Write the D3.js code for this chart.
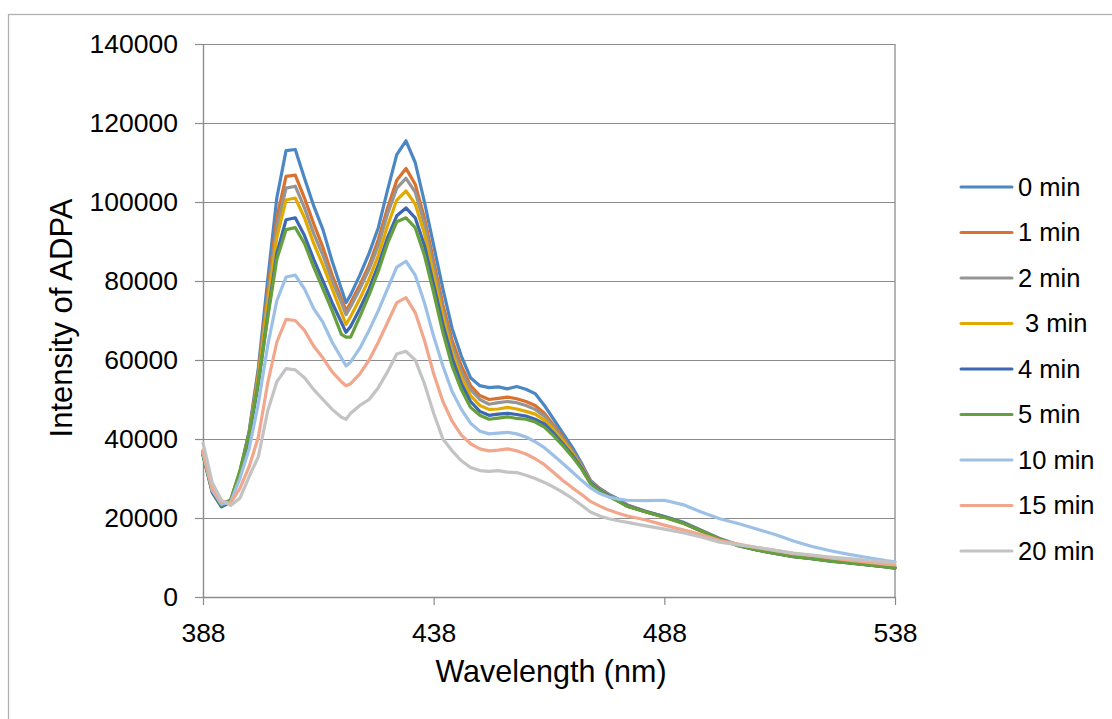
<!DOCTYPE html>
<html>
<head>
<meta charset="utf-8">
<script src="https://cdn.jsdelivr.net/npm/d3@7"></script>
<style>
  body { margin: 0; background: #fff; }
  text { font-family: "Liberation Sans", Arial, sans-serif; fill: #000; }
</style>
</head>
<body>
<div class="chart"></div>
<script>
// wavelengths (nm) the curves are sampled at
var wavelengths = [388, 390, 392, 394, 396, 398, 400, 402, 404, 406, 408, 410, 412, 414, 416, 418, 419, 420,
  422, 424, 426, 428, 430, 432, 434, 436, 438, 440, 442, 444, 446, 448, 450, 452, 454, 456, 458, 460,
  462, 464, 466, 468, 470, 472, 474, 476, 478, 480, 484, 488, 492, 496, 500, 504, 508, 512, 516, 520,
  524, 528, 532, 536, 538];

var min0 = [37000, 27500, 23500, 24500, 31500, 42000, 58000, 80000, 101000, 113000, 113300, 106000, 99000, 93000, 85000, 78000, 74500, 76500,
  81500, 87000, 93500, 103000, 112000, 115500, 110000, 100000, 89000, 78000, 68000, 61000, 55500, 53500, 53000, 53200, 52700, 53300, 52600, 51500,
  48500, 45000, 41500, 38000, 34000, 29500, 27500, 26000, 24800, 23300, 21700, 20400, 19000, 16900, 14800, 13200, 12100, 11200, 10400, 9900,
  9300, 8800, 8300, 7800, 7500];
var min1 = [36500, 27000, 23500, 24500, 31500, 41500, 57000, 77000, 96000, 106500, 106800, 101000, 94500, 88500, 81500, 75500, 72500, 74500,
  79000, 84000, 90500, 98500, 105500, 108500, 104500, 96000, 85000, 74000, 65000, 58500, 53500, 51000, 50000, 50300, 50600, 50200, 49500, 48500,
  46500, 43500, 40500, 37000, 33500, 29300, 27300, 25800, 24600, 23200, 21600, 20300, 18800, 16800, 14700, 13100, 12000, 11100, 10300, 9800,
  9200, 8700, 8200, 7700, 7400];
var min2 = [36500, 27000, 23500, 24500, 31500, 41000, 56000, 75500, 93500, 103500, 104000, 98500, 92000, 86500, 80000, 74500, 71500, 73500,
  78000, 83000, 89000, 97000, 103500, 106000, 102500, 94500, 83500, 72500, 63500, 57000, 52500, 50000, 48800, 49200, 49500, 49200, 48500, 47500,
  45800, 43000, 40000, 36800, 33300, 29200, 27200, 25700, 24500, 23100, 21600, 20300, 18800, 16800, 14700, 13100, 12000, 11100, 10300, 9800,
  9200, 8700, 8200, 7700, 7400];
var min3 = [36000, 26500, 23000, 24500, 31500, 41000, 55500, 74000, 91000, 100500, 101000, 96000, 89500, 84000, 78000, 72000, 69000, 71000,
  75500, 80500, 86500, 94000, 100500, 102800, 99500, 92000, 81500, 71000, 62000, 55500, 51000, 48500, 47500, 47600, 48000, 47600, 47000, 46300,
  44800, 42300, 39500, 36500, 33000, 29000, 27000, 25600, 24400, 23000, 21500, 20200, 18700, 16700, 14600, 13100, 12000, 11100, 10300, 9700,
  9200, 8700, 8200, 7700, 7400];
var min4 = [36000, 26500, 22800, 24000, 31000, 40500, 54000, 71000, 87000, 95500, 96000, 91500, 85500, 80000, 74500, 69500, 67000, 68500,
  73000, 78000, 84000, 91000, 96500, 98500, 96000, 89000, 79000, 69000, 60500, 54000, 49500, 47000, 46000, 46300, 46500, 46200, 45800, 45000,
  43800, 41500, 38800, 36000, 32800, 28900, 27000, 25600, 24400, 23000, 21600, 20300, 18800, 16700, 14600, 13000, 11900, 11000, 10200, 9700,
  9100, 8600, 8100, 7600, 7300];
var min5 = [36000, 27000, 23200, 24500, 32000, 41500, 54500, 70500, 85500, 93000, 93500, 89500, 83500, 78000, 72500, 66500, 65800, 65800,
  71000, 76500, 82500, 89500, 95000, 96000, 93500, 86500, 77000, 67000, 58500, 52500, 48000, 46000, 45000, 45300, 45600, 45200, 45000, 44300,
  43000, 40800, 38300, 35600, 32500, 28700, 26800, 25400, 24200, 22900, 21500, 20200, 18700, 16700, 14600, 13000, 11900, 11000, 10200, 9700,
  9100, 8600, 8100, 7600, 7300];
var min10 = [36500, 27000, 23500, 24000, 30000, 37500, 49000, 63500, 75000, 81000, 81500, 78000, 73000, 69500, 64500, 60500, 58500, 59500,
  63000, 67500, 72500, 78000, 83500, 85000, 81500, 74500, 66000, 58500, 52000, 47500, 44000, 42000, 41300, 41500, 41700, 41300, 40500, 39300,
  37800, 35800, 33800, 31700, 29600, 27600, 26200, 25300, 24800, 24500, 24400, 24500, 23400, 21500, 19800, 18600, 17200, 15800, 14200, 12800,
  11700, 10800, 10000, 9200, 8900];
var min15 = [37000, 27500, 24000, 23800, 27500, 33000, 40500, 54000, 64500, 70300, 70000, 67500, 63500, 60500, 57000, 54500, 53500, 54000,
  56500, 60000, 64500, 69500, 74500, 75800, 72000, 65000, 56500, 49500, 44500, 41000, 38800, 37500, 37000, 37200, 37500, 37000, 36200, 35000,
  33500, 31500, 29500, 27700, 26000, 24200, 23000, 22000, 21200, 20500, 19500, 18200, 17000, 15800, 14300, 13400, 12500, 11800, 11000, 10500,
  9900, 9300, 8800, 8300, 8100];
var min20 = [39000, 29000, 24500, 23200, 25000, 30500, 35500, 47000, 54500, 57800, 57500, 55500, 52500, 50000, 47500, 45500, 45000, 46500,
  48500, 50000, 53000, 57000, 61500, 62200, 60000, 54000, 46500, 40000, 37000, 34500, 32800, 32000, 31800, 32000, 31600, 31500, 30800, 30000,
  29000, 27800, 26500, 25000, 23300, 21500, 20500, 19800, 19300, 18900, 18000, 17200, 16300, 15200, 13900, 13200, 12600, 11800, 11100, 10600,
  10100, 9700, 9300, 8900, 8700];

var seriesNames = ["0 min", "1 min", "2 min", " 3 min", "4 min", "5 min", "10 min", "15 min", "20 min"];
var seriesValues = [min0, min1, min2, min3, min4, min5, min10, min15, min20];
var seriesColors = ["#4A87C3", "#D9722E", "#959595", "#E2AA00", "#3E67B1", "#66A03E", "#9DC0E6", "#F2A78C", "#C3C3C3"];

var xTicks = [388, 438, 488, 538];
var yTicks = [0, 20000, 40000, 60000, 80000, 100000, 120000, 140000];

var svgWidth = 1112;
var svgHeight = 719;

var margin = { top: 44, left: 203, right: 217, bottom: 122 };
var width = svgWidth - margin.left - margin.right;
var height = svgHeight - margin.top - margin.bottom;

var svg = d3.select(".chart")
  .append("svg")
  .attr("width", svgWidth)
  .attr("height", svgHeight);

// chart frame (runs off the picture on the right and bottom)
svg.append("rect")
  .attr("x", 8.5)
  .attr("y", 14.5)
  .attr("width", 1200)
  .attr("height", 800)
  .attr("fill", "#fff")
  .attr("stroke", "#b0b0b0")
  .attr("stroke-width", 1.3);

var chartGroup = svg.append("g")
  .attr("transform", `translate(${margin.left}, ${margin.top})`);

var xScale = d3.scaleLinear().domain([388, 538]).range([0, width]);
var yScale = d3.scaleLinear().domain([0, 140000]).range([height, 0]);

// gridlines
chartGroup.append("g")
  .call(d3.axisLeft(yScale).tickValues(yTicks).tickSize(-width).tickFormat(""))
  .call(g => g.select(".domain").remove())
  .selectAll("line")
  .attr("stroke", "#8c8c8c")
  .attr("stroke-width", 1.2);

// plot area border on the right
chartGroup.append("line")
  .attr("x1", width).attr("x2", width)
  .attr("y1", 0).attr("y2", height)
  .attr("stroke", "#8c8c8c")
  .attr("stroke-width", 1.3);

// axes
var yAxis = chartGroup.append("g")
  .call(d3.axisLeft(yScale).tickValues(yTicks).tickFormat(d3.format("d"))
    .tickSize(8).tickPadding(17).tickSizeOuter(0));

var xAxis = chartGroup.append("g")
  .attr("transform", `translate(0, ${height})`)
  .call(d3.axisBottom(xScale).tickValues(xTicks).tickFormat(d3.format("d"))
    .tickSize(8).tickPadding(18).tickSizeOuter(0));

[xAxis, yAxis].forEach(function(ax) {
  ax.select(".domain").attr("stroke", "#8c8c8c").attr("stroke-width", 1.4);
  ax.selectAll(".tick line").attr("stroke", "#8c8c8c").attr("stroke-width", 1.2);
  ax.selectAll(".tick text")
    .attr("fill", "#000")
    .style("font-size", "26.5px")
    .style("font-family", "'Liberation Sans', Arial, sans-serif");
});

// lines
var line = d3.line()
  .x(d => xScale(d[0]))
  .y(d => yScale(d[1]));

seriesValues.forEach(function(vals, i) {
  var pts = wavelengths.map((w, j) => [w, vals[j]]);
  chartGroup.append("path")
    .datum(pts)
    .attr("d", line)
    .attr("fill", "none")
    .attr("stroke", seriesColors[i])
    .attr("stroke-width", 3.2)
    .attr("stroke-linejoin", "round")
    .attr("stroke-linecap", "round");
});

// axis titles
svg.append("text")
  .attr("x", 551)
  .attr("y", 682)
  .attr("text-anchor", "middle")
  .style("font-size", "30.5px")
  .text("Wavelength (nm)");

svg.append("text")
  .attr("transform", "translate(72, 318) rotate(-90)")
  .attr("text-anchor", "middle")
  .style("font-size", "31px")
  .text("Intensity of ADPA");

// legend
var legend = svg.append("g");
seriesNames.forEach(function(name, i) {
  var ly = 187 + i * 45.5;
  legend.append("line")
    .attr("x1", 961).attr("x2", 1012)
    .attr("y1", ly).attr("y2", ly)
    .attr("stroke", seriesColors[i])
    .attr("stroke-width", 3)
    .attr("stroke-linecap", "round");
  legend.append("text")
    .attr("x", 1018)
    .attr("y", ly)
    .attr("dy", "0.35em")
    .attr("xml:space", "preserve")
    .style("white-space", "pre")
    .style("font-size", "25.5px")
    .text(name);
});
</script>
</body>
</html>
